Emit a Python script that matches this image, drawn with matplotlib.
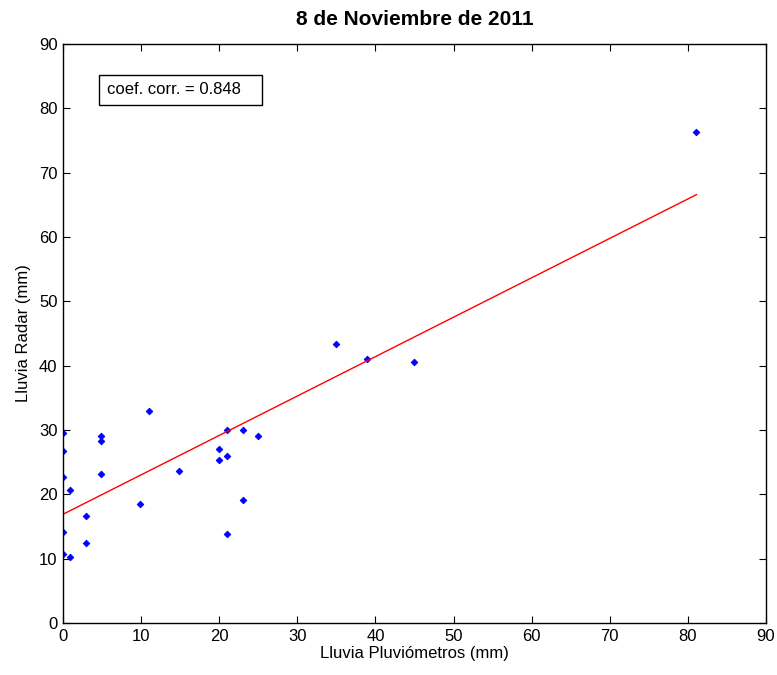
import numpy as np
import matplotlib
matplotlib.use('Agg')
from matplotlib import pyplot as plt

plt.rcParams['font.family'] = ['Liberation Sans', 'DejaVu Sans']

# lluvia acumulada por estacion: pluviometro vs radar (mm)
pluvio = [0, 0, 0, 0.9, 0, 0, 0.9, 2.9, 2.9, 4.9, 4.9, 4.9, 11.0, 9.9, 14.9,
          20.0, 20.0, 21.0, 21.0, 21.0, 23.0, 23.0, 25.0, 35.0, 38.9, 45.0, 81.1]
radar = [29.6, 26.7, 22.7, 20.6, 14.1, 10.8, 10.3, 16.6, 12.5, 29.0, 28.3, 23.2, 32.9, 18.5, 23.6,
         27.1, 25.4, 30.0, 25.9, 13.9, 30.0, 19.1, 29.0, 43.4, 41.1, 40.5, 76.4]
coef_corr = 0.848

x = np.array(pluvio)
y = np.array(radar)
p = np.polyfit(x, y, 1)
xl = np.array([x.min(), x.max()])

fig = plt.figure(figsize=(7.77, 6.75), dpi=100)
ax = fig.add_axes([0.0811, 0.077, 0.9047, 0.8578])

ax.plot(x, y, 'D', color='blue', markersize=3.4, markeredgewidth=0.6)
ax.plot(xl, np.polyval(p, xl), color='red', lw=1)

ax.set_xlim(0, 90)
ax.set_ylim(0, 90)
ax.set_xticks(range(0, 91, 10))
ax.set_yticks(range(0, 91, 10))
ax.tick_params(direction='in', top=True, right=True, length=5, labelsize=12, pad=4)
for s in ax.spines.values():
    s.set_linewidth(1)

ax.set_title('8 de Noviembre de 2011', fontsize=15, fontweight='bold', pad=14)
ax.set_xlabel('Lluvia Pluviómetros (mm)', fontsize=12, labelpad=2)
ax.set_ylabel('Lluvia Radar (mm)', fontsize=12, labelpad=6)

ax.text(5.6, 82.9, 'coef. corr. = %.3f   ' % coef_corr, fontsize=12, va='center', ha='left',
        bbox=dict(boxstyle='square,pad=0.45', fc='white', ec='black', lw=1))

fig.savefig('out.png', dpi=100)
